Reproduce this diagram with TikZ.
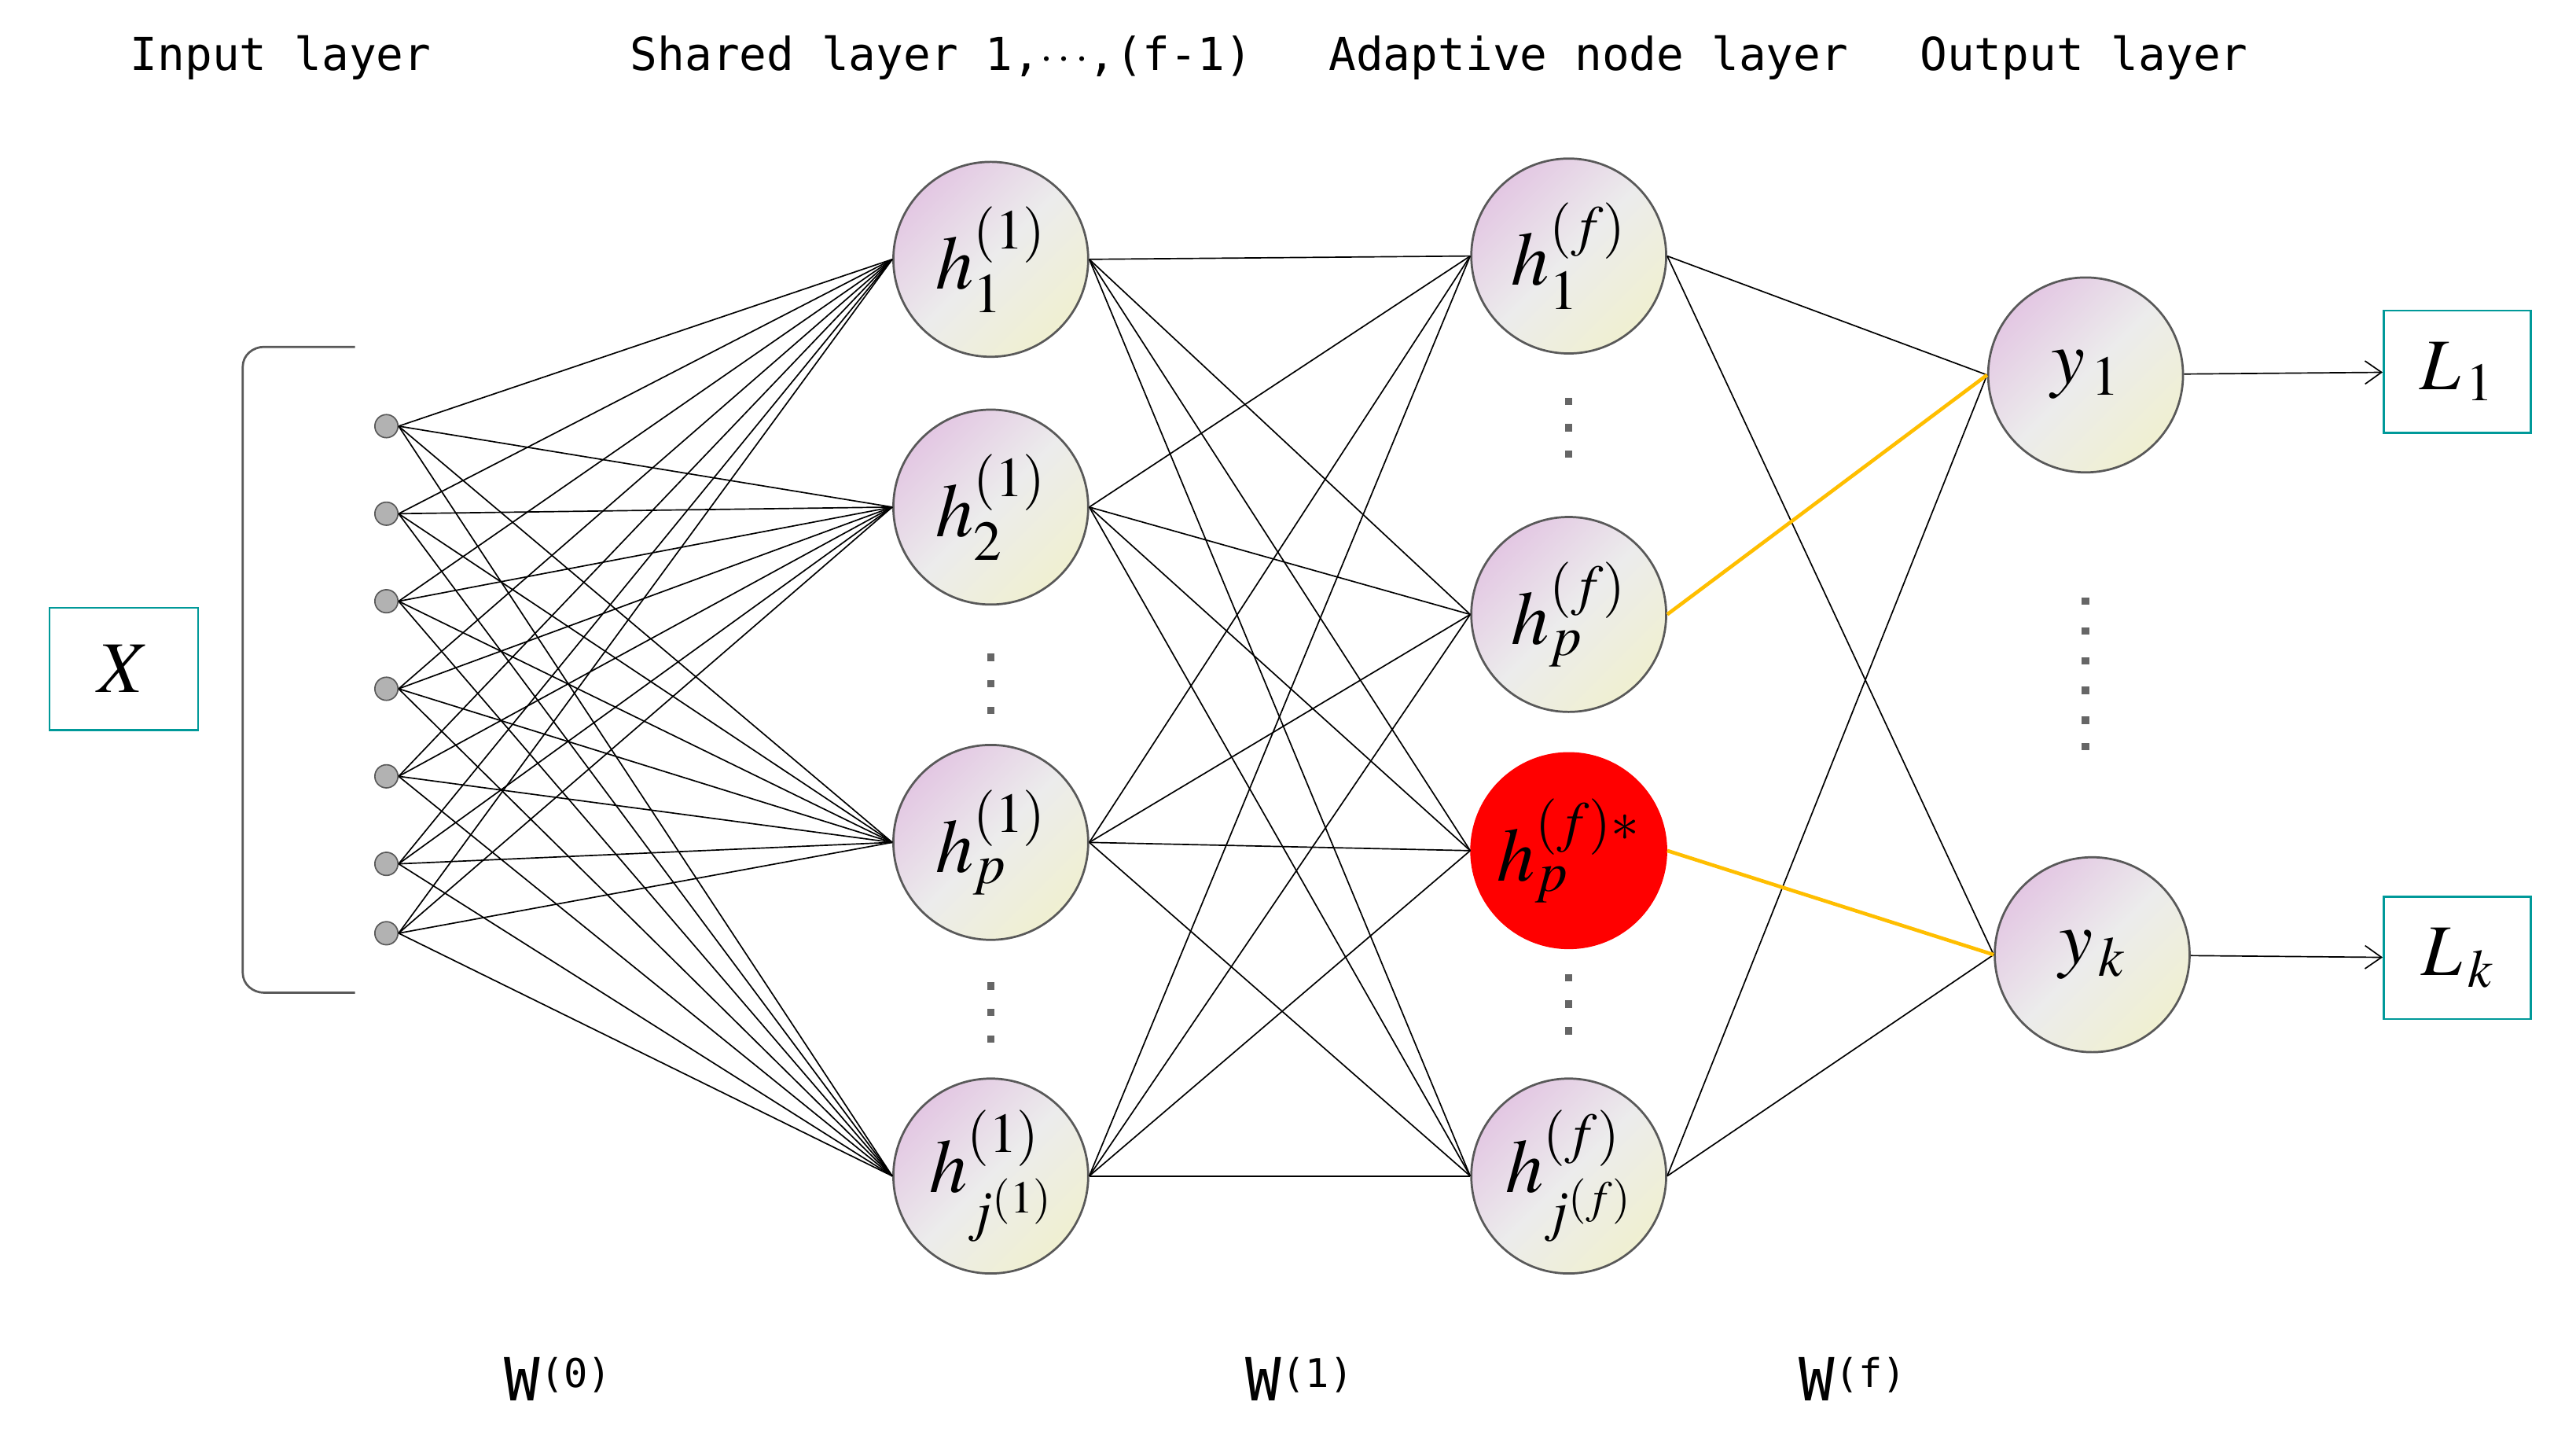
\documentclass[tikz,border=0pt]{standalone}
\usepackage{mathptmx}
\usepackage{fontspec}
\newfontfamily\monof{DejaVu Sans Mono}
\usetikzlibrary{arrows.meta}
\begin{document}
\begin{tikzpicture}[x=1pt,y=-1pt,
  neuron/.style={circle,draw=black!65,line width=1.3pt,minimum size=118pt,inner sep=0pt,
    top color=violet!22!white,bottom color=olive!12!white,middle color=gray!15,shading angle=45,
    font=\fontsize{46}{50}\selectfont},
  inp/.style={circle,draw=black!65,fill=black!30,line width=0.8pt,minimum size=14pt,inner sep=0pt},
  lbox/.style={draw=teal!80!cyan,line width=1.2pt,minimum width=89pt,minimum height=74pt,font=\fontsize{44}{48}\selectfont},
  title/.style={font=\monof\fontsize{27.5}{30}\selectfont},
  wl/.style={font=\monof\fontsize{36}{40}\selectfont},
  edge/.style={line width=0.8pt},
  hot/.style={line width=2.2pt,draw={rgb,255:red,255;green,190;blue,0}},
  dot/.style={fill=black!60,minimum size=4.5pt,inner sep=0pt}]
\useasboundingbox (0,0) rectangle (1560,875);
\node[title] (t1) at (170,35) {Input layer};
\node[title] (t2) at (570,35) {Shared layer 1,$\cdots$,(f-1)};
\node[title] (t3) at (962,35) {Adaptive node layer};
\node[title] (t4) at (1262,35) {Output layer};
\node[lbox,minimum width=90pt] (X) at (75,405) {$X$};
\draw[line width=1.3pt,draw=black!65] (215,210) -- (160,210) to[out=180,in=90] (147,222) -- (147,589) to[out=-90,in=180] (160,601) -- (215,601);
\foreach \i/\y in {1/258,2/311,3/364,4/417,5/470,6/523,7/565} \node[inp] (i\i) at (234,\y) {};
\node[neuron] (a1) at (600,157) {$h^{(1)}_1$};
\node[neuron] (a2) at (600,307) {$h^{(1)}_2$};
\node[neuron] (a3) at (600,510) {$h^{(1)}_p$};
\node[neuron] (a4) at (600,712) {$h^{(1)}_{j^{(1)}}$};
\node[neuron] (b1) at (950,155) {$h^{(f)}_1$};
\node[neuron] (b2) at (950,372) {$h^{(f)}_p$};
\node[neuron,draw=red,top color=red,bottom color=red,middle color=red] (b3) at (950,515) {$h^{(f)*}_p$};
\node[neuron] (b4) at (950,712) {$h^{(f)}_{j^{(f)}}$};
\node[neuron] (y1) at (1263,227) {$y_{\,1}$};
\node[neuron] (yk) at (1267,578) {$y_{\,k}$};
\node[lbox] (L1) at (1488,225) {$L_{\,1}$};
\node[lbox] (Lk) at (1488,580) {$L_{\,k}$};
\foreach \x/\ys [count=\n] in {600/{398,414,430},600/{597,613,629},950/{243,259,275},950/{592,608,624},1263/{364,382,400,418,436,452}}
  \foreach \y [count=\m] in \ys \node[dot] (dt\n-\m) at (\x,\y) {};
\foreach \i in {1,...,7} \foreach \j in {1,...,4} \draw[edge] (i\i.east) -- (a\j.west);
\foreach \i in {1,...,4} \foreach \j in {1,...,4} \draw[edge] (a\i.east) -- (b\j.west);
\draw[edge] (b1.east) -- (y1.west);
\draw[edge] (b1.east) -- (yk.west);
\draw[edge] (b4.east) -- (y1.west);
\draw[edge] (b4.east) -- (yk.west);
\draw[hot] (b2.east) -- (y1.west);
\draw[hot] (b3.east) -- (yk.west);
\draw[edge,-{Straight Barb[length=10pt,width=14pt]}] (y1) -- (L1);
\draw[edge,-{Straight Barb[length=10pt,width=14pt]}] (yk) -- (Lk);
\node[wl] (w0) at (338,835) {W\raisebox{8pt}{\fontsize{24}{26}\selectfont(0)}};
\node[wl] (w1) at (787,835) {W\raisebox{8pt}{\fontsize{24}{26}\selectfont(1)}};
\node[wl] (wf) at (1122,835) {W\raisebox{8pt}{\fontsize{24}{26}\selectfont(f)}};
\end{tikzpicture}
\end{document}
